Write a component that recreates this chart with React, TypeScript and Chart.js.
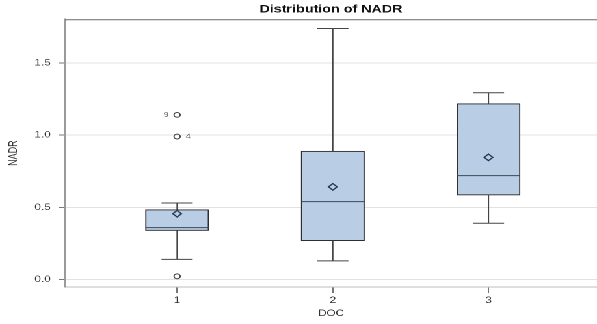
import React, { useEffect, useRef } from "react";
import { Chart, registerables } from "chart.js";

Chart.register(...registerables);

// ---- data ----
const categories = [1, 2, 3];
const categoryLabels = ["1", "2", "3"];
const whiskerLow = [0.14, 0.13, 0.39];
const q1 = [0.34, 0.27, 0.585];
const median = [0.36, 0.54, 0.72];
const q3 = [0.484, 0.889, 1.217];
const whiskerHigh = [0.53, 1.738, 1.293];
const means = [0.456, 0.642, 0.846];
const outlierX = [1, 1, 1];
const outlierY = [1.14, 0.99, 0.023];
const outlierLabels = ["9", "4", ""];
const yTicks = [0, 0.5, 1.0, 1.5];

const TITLE = "Distribution of NADR";
const X_TITLE = "DOC";
const Y_TITLE = "NADR";

// ---- layout (internal canvas is stretched horizontally) ----
const STRETCH = 597 / 459;
const CW = 459;
const CH = 324;
const FONT = "'Liberation Sans', Arial, sans-serif";

const labelSide = [-1, 1, 1];

export default function App() {
  const ref = useRef<HTMLCanvasElement>(null);

  useEffect(() => {
    if (!ref.current) return;

    const boxData = categories.map((c, i) => ({ x: c, y: [q1[i], q3[i]] }));
    const whiskerData: any[] = [];
    categories.forEach((c, i) => {
      whiskerData.push(
        { x: c, y: q3[i] },
        { x: c, y: whiskerHigh[i] },
        { x: c, y: null },
        { x: c, y: q1[i] },
        { x: c, y: whiskerLow[i] },
        { x: c, y: null }
      );
    });
    const capData: any[] = [];
    categories.forEach((c, i) => {
      capData.push({ x: c, y: whiskerHigh[i] }, { x: c, y: whiskerLow[i] });
    });
    const medianData = categories.map((c, i) => ({ x: c, y: median[i] }));
    const meanData = categories.map((c, i) => ({ x: c, y: means[i] }));
    const outlierData = outlierX.map((x, i) => ({ x, y: outlierY[i] }));

    const framePlugin = {
      id: "frame",
      beforeDatasetsDraw(chart: any) {
        const { ctx, chartArea } = chart;
        ctx.save();
        ctx.strokeStyle = "#6a6a6a";
        ctx.lineWidth = 1;
        ctx.beginPath();
        ctx.moveTo(chartArea.left, chartArea.top + 0.5);
        ctx.lineTo(chartArea.right, chartArea.top + 0.5);
        ctx.stroke();
        ctx.restore();
      },
    };

    const outlierLabelPlugin = {
      id: "outlierLabels",
      afterDatasetsDraw(chart: any) {
        const { ctx } = chart;
        const xs = chart.scales.x;
        const ys = chart.scales.y;
        ctx.save();
        ctx.fillStyle = "#666";
        ctx.font = `7px ${FONT}`;
        ctx.textAlign = "center";
        ctx.textBaseline = "middle";
        outlierLabels.forEach((lab, i) => {
          if (!lab) return;
          const px = xs.getPixelForValue(outlierX[i]);
          const py = ys.getPixelForValue(outlierY[i]);
          ctx.fillText(lab, px + labelSide[i] * 8.5, py);
        });
        ctx.restore();
      },
    };

    const chart = new Chart(ref.current, {
      type: "bar",
      data: {
        datasets: [
          {
            type: "bar",
            data: boxData as any,
            backgroundColor: "#b9cde5",
            borderColor: "#2e2e2e",
            borderWidth: 1,
            borderSkipped: false,
            barThickness: 48.5,
            order: 10,
          } as any,
          {
            type: "line",
            data: whiskerData,
            borderColor: "#444",
            borderWidth: 1,
            pointRadius: 0,
            spanGaps: false,
            fill: false,
            order: 6,
          } as any,
          {
            type: "scatter",
            data: capData,
            pointStyle: "line",
            pointRadius: 12,
            borderColor: "#444",
            borderWidth: 1,
            order: 5,
          } as any,
          {
            type: "scatter",
            data: medianData,
            pointStyle: "line",
            pointRadius: 24.25,
            borderColor: "#3b4756",
            borderWidth: 1,
            order: 3,
          } as any,
          {
            type: "scatter",
            data: meanData,
            pointStyle: "rectRot",
            pointRadius: 3.3,
            borderColor: "#2a3b55",
            backgroundColor: "rgba(0,0,0,0)",
            borderWidth: 1.2,
            order: 1,
          } as any,
          {
            type: "scatter",
            data: outlierData,
            pointStyle: "circle",
            pointRadius: 2.4,
            borderColor: "#444",
            backgroundColor: "rgba(0,0,0,0)",
            borderWidth: 1,
            order: 1,
          } as any,
        ],
      },
      options: {
        responsive: false,
        animation: false,
        devicePixelRatio: 2,
        events: [],
        layout: { padding: 0, autoPadding: false },
        plugins: {
          legend: { display: false },
          tooltip: { enabled: false },
          title: {
            display: true,
            text: TITLE,
            fullSize: false,
            color: "#111",
            font: { family: FONT, size: 11, weight: "bold" },
            padding: { top: 3, bottom: 3 },
          },
        },
        scales: {
          x: {
            type: "linear",
            min: 0.28,
            max: 3.697,
            offset: false,
            afterBuildTicks(scale: any) {
              scale.ticks = categories.map((v) => ({ value: v }));
            },
            afterFit(scale: any) {
              scale.height = 37;
              scale.paddingLeft = 0;
              scale.paddingRight = 0;
            },
            grid: {
              offset: false,
              drawOnChartArea: false,
              drawTicks: true,
              tickLength: 6,
              tickColor: "#777",
            },
            border: { display: true, color: "#bdbdbd" },
            ticks: {
              padding: 2,
              color: "#333",
              font: { family: FONT, size: 9 },
              maxRotation: 0,
              callback: (v: any) => {
                const idx = categories.indexOf(Number(v));
                return idx >= 0 ? categoryLabels[idx] : "";
              },
            },
            title: {
              display: true,
              text: X_TITLE,
              color: "#333",
              font: { family: FONT, size: 9 },
              padding: { top: 0, bottom: 5 },
            },
          },
          y: {
            type: "linear",
            min: -0.051,
            max: 1.802,
            afterBuildTicks(scale: any) {
              scale.ticks = yTicks.map((v) => ({ value: v }));
            },
            afterFit(scale: any) {
              scale.width = 50;
              scale.paddingTop = 0;
              scale.paddingBottom = 0;
            },
            grid: {
              color: "#e2e2e2",
              lineWidth: 1,
              drawTicks: true,
              tickLength: 5,
              tickColor: "#777",
            },
            border: { display: true, color: "#9a9a9a" },
            ticks: {
              padding: 6,
              color: "#333",
              font: { family: FONT, size: 9 },
              callback: (v: any) => Number(v).toFixed(1),
            },
            title: {
              display: true,
              text: Y_TITLE,
              color: "#333",
              font: { family: FONT, size: 9 },
              padding: { top: 5, bottom: 0 },
            },
          },
        },
      } as any,
      plugins: [framePlugin, outlierLabelPlugin],
    });

    return () => chart.destroy();
  }, []);

  return (
    <div
      style={{
        position: "absolute",
        left: 0,
        top: 0,
        width: CW,
        height: CH,
        transform: `scaleX(${STRETCH})`,
        transformOrigin: "0 0",
        background: "#fff",
      }}
    >
      <canvas ref={ref} width={CW} height={CH} style={{ display: "block" }} />
    </div>
  );
}
